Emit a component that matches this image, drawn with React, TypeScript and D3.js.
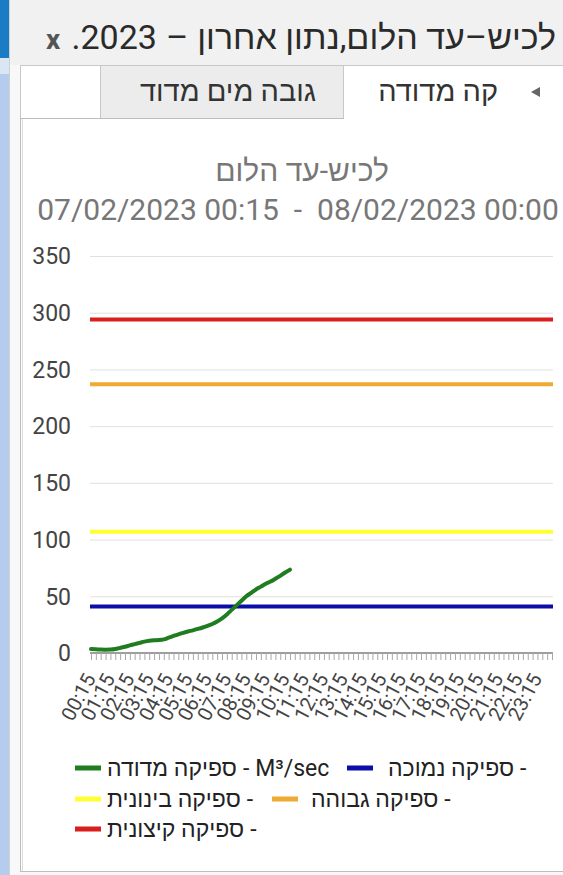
import React, { useEffect, useRef } from 'react';
import * as d3 from 'd3';

// quarter-hour categories 00:15 .. 23:45, 00:00 (next day)
const hours = ['00','01','02','03','04','05','06','07','08','09','10','11','12','13','14','15','16','17','18','19','20','21','22','23'];
const quarters = ['15','30','45'];
const categories: string[] = [];
hours.forEach((h, i) => {
  quarters.forEach(q => categories.push(h + ':' + q));
  categories.push(i < 23 ? hours[i + 1] + ':00' : '00:00');
});

// tick labels on the x axis (every hour)
const xTickLabels = ['00:15','01:15','02:15','03:15','04:15','05:15','06:15','07:15','08:15','09:15','10:15','11:15',
  '12:15','13:15','14:15','15:15','16:15','17:15','18:15','19:15','20:15','21:15','22:15','23:15'];

const yTicks = [0, 50, 100, 150, 200, 250, 300, 350];

// measured flow, M3/sec, from 00:15 to 10:30
const measured = [3.5, 3.3, 3.0, 2.9, 3.0, 3.5, 4.5, 5.5, 6.7, 7.8, 8.9, 10.0, 10.8, 11.2, 11.4, 12.0,
  13.5, 15.0, 16.5, 17.8, 19.0, 20.0, 21.2, 22.5, 24.0, 25.6, 27.8, 30.5, 34.0, 38.0, 42.0, 46.0,
  50.0, 53.0, 56.0, 58.5, 61.0, 63.0, 65.5, 68.0, 71.0, 73.5];

// threshold series
const thresholdNames = ['ספיקה נמוכה', 'ספיקה בינונית', 'ספיקה גבוהה', 'ספיקה קיצונית'];
const thresholdValues = [41, 107, 237, 294];

const measuredName = 'ספיקה מדודה';
const unit = 'M³/sec';

const colors: { [k: string]: string } = {
  'ספיקה מדודה': '#1f7c1f',
  'ספיקה נמוכה': '#0c0ca8',
  'ספיקה בינונית': '#ffff33',
  'ספיקה גבוהה': '#eeaa33',
  'ספיקה קיצונית': '#d91e1e'
};

const chartTitle = 'לכיש-עד הלום';
const chartSubtitle = '07/02/2023 00:15  -  08/02/2023 00:00';
const dialogTitle = 'לכיש–עד הלום,נתון אחרון';
const dialogYear = '2023';
const tabInactive = 'גובה מים מדוד';
const tabActive = 'קה מדודה';

const FONT = "Roboto, 'Liberation Sans', Arial, sans-serif";

// lay out pieces of mixed hebrew/latin text in visual (left to right) order
function visualText(g: any, parts: string[], gaps: number[], x: number, y: number, align: string, size: number, fill: string) {
  const nodes = parts.map(p => g.append('text').attr('y', y).attr('dy', '0.36em')
    .attr('font-family', FONT).attr('font-size', size).attr('fill', fill).text(p));
  const widths = nodes.map((n: any) => n.node().getComputedTextLength());
  const total = d3.sum(widths) + d3.sum(gaps.slice(0, parts.length - 1));
  let cx = align === 'end' ? x - total : x;
  nodes.forEach((n: any, i: number) => {
    n.attr('x', cx);
    cx += widths[i] + (gaps[i] || 0);
  });
}

export default function App() {
  const ref = useRef<SVGSVGElement>(null);

  useEffect(() => {
    document.body.style.margin = '0';
    const svg = d3.select(ref.current);
    svg.selectAll('*').remove();

    // ---- dialog frame ----
    svg.append('rect').attr('x', 0).attr('y', 0).attr('width', 563).attr('height', 875).attr('fill', '#f1f1f1');
    svg.append('rect').attr('x', 0).attr('y', 0).attr('width', 9).attr('height', 875).attr('fill', '#b4ccee');
    svg.append('rect').attr('x', 0).attr('y', 0).attr('width', 9).attr('height', 58).attr('fill', '#1b7cc6');
    svg.append('rect').attr('x', 0).attr('y', 58).attr('width', 9).attr('height', 16).attr('fill', '#dbe6f5');
    svg.append('line').attr('x1', 9.5).attr('x2', 9.5).attr('y1', 0).attr('y2', 875).attr('stroke', '#d0d0d0');
    svg.append('rect').attr('x', 10).attr('y', 65).attr('width', 553).attr('height', 810).attr('fill', '#f8f8f8');

    const sp = 9;
    visualText(svg, ['.', dialogYear, '–', dialogTitle], [0, sp, sp], 556, 37, 'end', 34, '#2a2a2a');
    svg.append('text')
      .attr('x', 53).attr('y', 49).attr('text-anchor', 'middle')
      .attr('font-family', FONT).attr('font-size', 28).attr('font-weight', 'bold').attr('fill', '#555')
      .text('x');

    // tabs
    svg.append('rect').attr('x', 20.5).attr('y', 65.5).attr('width', 80).attr('height', 53)
      .attr('fill', '#fff').attr('stroke', '#c8c8c8');
    svg.append('rect').attr('x', 100.5).attr('y', 65.5).attr('width', 243).attr('height', 53)
      .attr('fill', '#ececec').attr('stroke', '#c8c8c8');
    svg.append('text').attr('x', 228).attr('y', 91).attr('dy', '0.36em').attr('text-anchor', 'middle')
      .attr('font-family', FONT).attr('font-size', 29).attr('fill', '#333').text(tabInactive);
    svg.append('rect').attr('x', 343.5).attr('y', 65.5).attr('width', 230).attr('height', 60)
      .attr('fill', '#fff').attr('stroke', '#c8c8c8');
    svg.append('text').attr('x', 498).attr('y', 91).attr('dy', '0.36em').attr('text-anchor', 'end')
      .attr('font-family', FONT).attr('font-size', 29).attr('fill', '#333').text(tabActive);
    svg.append('path').attr('d', 'M531,92 L540,87 L540,97 Z').attr('fill', '#666');

    // panel
    svg.append('rect').attr('x', 20.5).attr('y', 118.5).attr('width', 560).attr('height', 753)
      .attr('fill', '#fff').attr('stroke', '#bdbdbd').attr('stroke-width', 1);
    svg.append('line').attr('x1', 22.5).attr('x2', 22.5).attr('y1', 119).attr('y2', 871).attr('stroke', '#dcdcdc');
    svg.append('rect').attr('x', 344).attr('y', 117).attr('width', 219).attr('height', 3).attr('fill', '#fff');

    // ---- chart ----
    const x = d3.scalePoint<string>().domain(categories).range([91, 552]);
    const y = d3.scaleLinear().domain([0, 350]).range([653, 256]);
    const x0 = 90, x1 = 553;

    svg.append('text').attr('x', 302).attr('y', 181).attr('text-anchor', 'middle')
      .attr('font-family', FONT).attr('font-size', 30).attr('fill', '#777').text(chartTitle);
    svg.append('text').attr('x', 298).attr('y', 220).attr('text-anchor', 'middle')
      .style('white-space', 'pre')
      .attr('font-family', FONT).attr('font-size', 30).attr('fill', '#777').text(chartSubtitle);

    // gridlines
    svg.append('g').selectAll('line').data(yTicks.filter(d => d > 0)).enter().append('line')
      .attr('x1', x0).attr('x2', x1)
      .attr('y1', d => y(d) + 0.5).attr('y2', d => y(d) + 0.5)
      .attr('stroke', '#e0e0e0');

    svg.append('g').selectAll('text').data(yTicks).enter().append('text')
      .attr('x', 71).attr('y', d => y(d)).attr('dy', '0.36em').attr('text-anchor', 'end')
      .attr('font-family', FONT).attr('font-size', 23).attr('fill', '#444')
      .text(d => d);

    // x axis comb
    const xAxis = svg.append('g').attr('transform', 'translate(0,653)')
      .call(d3.axisBottom(x).tickSize(7).tickFormat(() => '').tickSizeOuter(0));
    xAxis.select('.domain').attr('stroke', '#9e9e9e').attr('stroke-width', 2)
      .attr('d', 'M' + x0 + ',0H' + x1);
    xAxis.selectAll('.tick line').attr('stroke', '#a8a8a8');

    svg.append('g').selectAll('text').data(xTickLabels).enter().append('text')
      .attr('transform', d => 'translate(' + ((x(d) as number) - 1) + ',675) rotate(-62)')
      .attr('text-anchor', 'end').attr('dy', '0.35em')
      .attr('font-family', FONT).attr('font-size', 20).attr('fill', '#444')
      .text(d => d);

    // threshold lines
    svg.append('g').selectAll('line').data(thresholdValues).enter().append('line')
      .attr('x1', x0).attr('x2', x1)
      .attr('y1', d => y(d)).attr('y2', d => y(d))
      .attr('stroke', (d, i) => colors[thresholdNames[i]]).attr('stroke-width', 4);

    // measured line
    const line = d3.line<number>()
      .x((d, i) => x(categories[i]) as number)
      .y(d => y(d))
      .curve(d3.curveMonotoneX);
    svg.append('path').datum(measured).attr('d', line)
      .attr('fill', 'none').attr('stroke', colors[measuredName]).attr('stroke-width', 4)
      .attr('stroke-linecap', 'round');

    // ---- legend ----
    const legend = [
      { name: measuredName, parts: [measuredName, '-', unit], sx: 75, tx: 107, y: 768 },
      { name: thresholdNames[0], parts: ['-', thresholdNames[0]], sx: 347, tx: 388, y: 768 },
      { name: thresholdNames[1], parts: ['-', thresholdNames[1]], sx: 75, tx: 107, y: 799 },
      { name: thresholdNames[2], parts: ['-', thresholdNames[2]], sx: 272, tx: 311, y: 799 },
      { name: thresholdNames[3], parts: ['-', thresholdNames[3]], sx: 75, tx: 107, y: 829 }
    ];
    const lg = svg.append('g');
    legend.forEach(d => {
      lg.append('rect').attr('x', d.sx).attr('y', d.y - 2.5).attr('width', 26).attr('height', 5)
        .attr('fill', colors[d.name]);
      // measured label reads left to right, threshold labels have the dash at their left
      const parts = d.parts[d.parts.length - 1] === unit ? d.parts : d.parts.slice().reverse();
      visualText(lg, parts, parts.map(() => 6), d.tx, d.y, 'start', 23, '#222');
    });
  }, []);

  return (
    <div style={{ position: 'fixed', left: 0, top: 0 }}>
      <svg ref={ref} width={563} height={875} style={{ display: 'block' }} />
    </div>
  );
}
